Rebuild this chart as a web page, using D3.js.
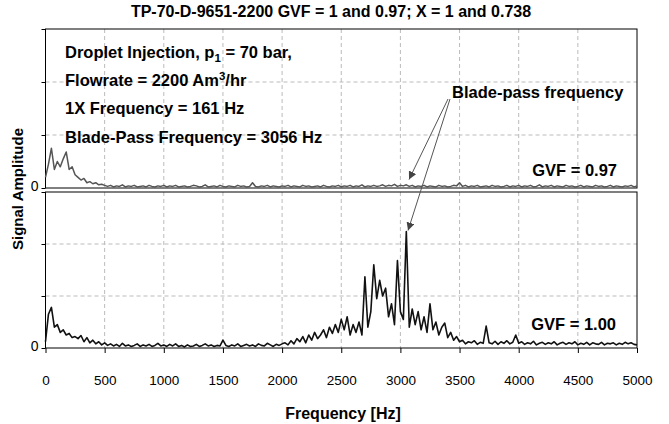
<!DOCTYPE html>
<html>
<head>
<meta charset="utf-8">
<script src="https://cdn.jsdelivr.net/npm/d3@7"></script>
<style>
  body { margin: 0; background: #fff; }
  svg { font-family: "Liberation Sans", Arial, sans-serif; }
  .grid line { stroke: #bbb; stroke-dasharray: 4,3; }
</style>
</head>
<body>
<div id="chart"></div>
<script>
// frequency step of the spectrum samples (Hz)
let freqStep = 25;

// GVF = 0.97 spectrum, amplitude x100, 0..5000 Hz
let gvf097 = [
  20,45,75,35,50,40,55,68,35,40,25,20,15,18,10,12,8,10,6,7,5,
  3,5,2,4,3,6,2,4,3,5,2,3,4,2,5,3,2,4,3,5,
  2,4,3,5,2,3,4,2,3,5,4,2,3,6,2,3,4,2,5,3,
  2,4,3,2,5,3,4,2,3,10,3,2,4,3,5,2,4,3,2,4,
  3,5,2,4,3,2,5,3,4,2,3,4,2,5,3,2,4,3,5,2,
  4,3,5,2,4,3,6,2,4,3,5,3,4,6,3,5,4,7,3,5,
  4,6,3,5,2,4,3,5,2,4,3,2,5,3,4,2,3,5,4,10,
  3,5,2,4,3,5,2,3,4,2,5,3,4,2,3,5,2,4,3,5,
  2,4,3,5,2,3,6,2,4,3,5,2,4,3,2,5,3,4,2,3,
  5,2,4,3,2,5,3,4,2,3,5,2,4,3,2,4,3,5,2,4
];

// GVF = 1.00 spectrum, amplitude x100, 0..5000 Hz
let gvf100 = [
  12,65,78,40,45,30,35,25,28,20,22,18,24,12,20,10,15,8,12,6,10,
  5,8,4,7,3,9,4,6,3,5,8,3,6,4,7,3,5,9,4,6,
  3,7,4,8,3,5,2,6,3,4,7,3,5,8,4,6,3,5,4,15,
  5,3,6,4,8,3,5,7,4,6,3,8,5,4,9,6,3,7,5,8,
  10,6,14,8,18,12,22,10,25,15,30,18,25,35,20,40,28,45,30,55,
  35,60,25,45,30,50,25,137,40,70,160,95,130,100,115,60,85,45,168,70,
  55,224,40,75,45,70,35,60,30,85,35,50,25,40,48,20,30,15,22,12,
  15,8,12,10,14,7,11,9,42,10,8,13,7,12,9,14,8,11,25,9,
  12,7,10,8,13,6,9,11,7,10,8,12,6,9,11,7,10,8,12,6,
  9,7,11,6,10,8,7,11,6,9,8,10,6,9,7,11,8,10,7,6
];

let xTicks = [0,500,1000,1500,2000,2500,3000,3500,4000,4500,5000];
let yTicks = [0,100,200,300];
let bladePass = 3056;

let width = 669, height = 424;
let left = 45.5, right = 637;
let font = '"Liberation Sans", Arial, sans-serif';

let svg = d3.select('#chart').append('svg')
  .attr('width', width)
  .attr('height', height);

let x = d3.scaleLinear().domain([0, 5000]).range([left, right]);
let yTop = d3.scaleLinear().domain([0, 300]).range([188, 29]);
let yBot = d3.scaleLinear().domain([0, 300]).range([348, 192]);

function drawPanel(y, data, color, sw) {
  let g = svg.append('g');
  // grid
  g.append('g').attr('class', 'grid')
    .selectAll('line.v').data(xTicks.slice(1, -1)).enter().append('line')
    .attr('x1', d => x(d)).attr('x2', d => x(d))
    .attr('y1', y.range()[1]).attr('y2', y.range()[0]);
  g.append('g').attr('class', 'grid')
    .selectAll('line.h').data(yTicks.slice(1, -1)).enter().append('line')
    .attr('x1', left).attr('x2', right)
    .attr('y1', d => y(d)).attr('y2', d => y(d));
  // frame
  g.append('rect')
    .attr('x', left).attr('y', y.range()[1])
    .attr('width', right - left).attr('height', y.range()[0] - y.range()[1])
    .attr('fill', 'none').attr('stroke', '#000').attr('stroke-width', 1);
  // left axis
  let yaxis = d3.axisLeft(y).tickValues(yTicks).tickSize(4)
    .tickFormat(d => d === 0 ? '0' : '');
  let ga = g.append('g').attr('transform', 'translate(' + left + ',0)').call(yaxis);
  ga.select('.domain').remove();
  ga.selectAll('text').attr('font-size', 14).attr('font-family', font).attr('dy', '0.2em');
  // series
  let line = d3.line()
    .x((d, i) => x(i * freqStep))
    .y(d => y(d));
  g.append('path')
    .datum(data)
    .attr('fill', 'none')
    .attr('stroke', color)
    .attr('stroke-width', sw)
    .attr('stroke-linejoin', 'round')
    .attr('d', line);
  return g;
}

drawPanel(yTop, gvf097, '#555', 1.5);
drawPanel(yBot, gvf100, '#111', 1.6);

// bottom x axis
let xaxis = d3.axisBottom(x).tickValues(xTicks).tickSize(5).tickPadding(22)
  .tickFormat(d3.format('d'));
let gx = svg.append('g').attr('transform', 'translate(0,348)').call(xaxis);
gx.select('.domain').remove();
gx.selectAll('text').attr('font-size', 13.5).attr('font-family', font).attr('fill', '#000');

// title and axis labels
svg.append('text')
  .attr('x', 331).attr('y', 17)
  .attr('text-anchor', 'middle')
  .attr('font-size', 16).attr('font-weight', 'bold')
  .text('TP-70-D-9651-2200 GVF = 1 and 0.97; X = 1 and 0.738');

svg.append('text')
  .attr('x', 343).attr('y', 419)
  .attr('text-anchor', 'middle')
  .attr('font-size', 16).attr('font-weight', 'bold')
  .text('Frequency [Hz]');

svg.append('text')
  .attr('transform', 'rotate(-90)')
  .attr('x', -189).attr('y', 23)
  .attr('text-anchor', 'middle')
  .attr('font-size', 15).attr('font-weight', 'bold')
  .text('Signal Amplitude');

// annotation block
let notes = svg.append('g').attr('font-size', 16.5).attr('font-weight', 'bold');
let t1 = notes.append('text').attr('x', 65).attr('y', 58);
t1.append('tspan').text('Droplet Injection, p');
t1.append('tspan').attr('font-size', 11.5).attr('dy', 4).text('1');
t1.append('tspan').attr('dy', -4).text(' = 70 bar,');
let t2 = notes.append('text').attr('x', 65).attr('y', 86);
t2.append('tspan').text('Flowrate = 2200 Am');
t2.append('tspan').attr('font-size', 11.5).attr('dy', -6).text('3');
t2.append('tspan').attr('dy', 6).text('/hr');
notes.append('text').attr('x', 65).attr('y', 114).text('1X  Frequency = 161 Hz');
notes.append('text').attr('x', 65).attr('y', 143).text('Blade-Pass Frequency = 3056 Hz');

notes.append('text').attr('x', 452).attr('y', 98).text('Blade-pass frequency');
notes.append('text').attr('x', 617).attr('y', 176).attr('text-anchor', 'end').text('GVF = 0.97');
notes.append('text').attr('x', 616).attr('y', 330).attr('text-anchor', 'end').text('GVF = 1.00');

// arrows to blade-pass frequency
svg.append('defs').append('marker')
  .attr('id', 'head').attr('viewBox', '0 0 10 10')
  .attr('refX', 10).attr('refY', 5)
  .attr('markerWidth', 8).attr('markerHeight', 8)
  .attr('markerUnits', 'userSpaceOnUse')
  .attr('orient', 'auto')
  .append('path').attr('d', 'M0,0L10,5L0,10Z').attr('fill', '#444');

svg.append('line')
  .attr('x1', 448).attr('y1', 99)
  .attr('x2', x(bladePass) + 2).attr('y2', yTop(16))
  .attr('stroke', '#555').attr('stroke-width', 1)
  .attr('marker-end', 'url(#head)');
svg.append('line')
  .attr('x1', 450).attr('y1', 99)
  .attr('x2', x(bladePass) + 1).attr('y2', yBot(224) - 1)
  .attr('stroke', '#555').attr('stroke-width', 1)
  .attr('marker-end', 'url(#head)');
</script>
</body>
</html>
